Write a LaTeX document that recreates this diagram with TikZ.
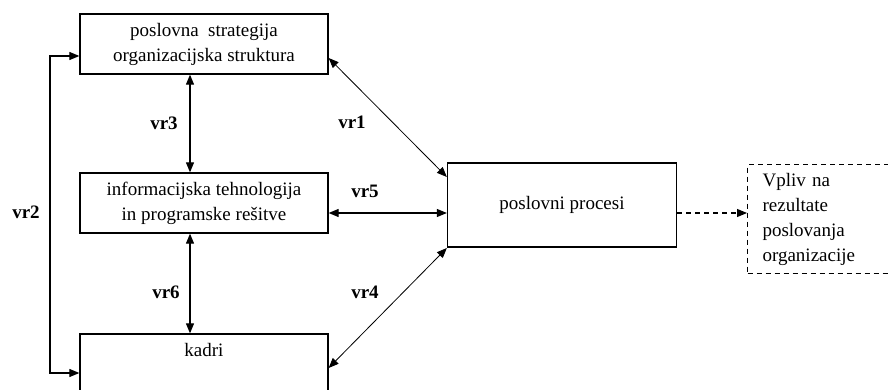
\documentclass[tikz,border=0pt]{standalone}
\usepackage{fontspec}
\setmainfont{Liberation Serif}
\usetikzlibrary{arrows.meta}
\begin{document}
\begin{tikzpicture}[x=1pt,y=-1pt,
  box/.style={draw=black, line width=1.3pt, fill=white, inner sep=0pt},
  txt/.style={font=\fontsize{19}{25}\selectfont, align=center},
  lbl/.style={font=\fontsize{19}{23}\selectfont\bfseries},
  con/.style={line width=1.1pt, {Triangle[length=10pt,width=8pt]}-{Triangle[length=10pt,width=8pt]}},
  thinarrow/.style={line width=0.8pt, {Triangle[length=10pt,width=8pt]}-{Triangle[length=10pt,width=8pt]}},
  dasharrow/.style={line width=1.1pt, dash pattern=on 5pt off 4pt, -{Triangle[length=10pt,width=8pt]}}
]
\useasboundingbox (0,0) rectangle (888,390);
\clip (0,0) rectangle (888,390);
\fill[white] (0,0) rectangle (888,390);

\node[box, txt, minimum width=248pt, minimum height=60pt] (b1) at (204,44)
  {poslovna\ \ strategija\\organizacijska struktura};
\node[box, txt, minimum width=248pt, minimum height=60pt] (b2) at (204,203)
  {informacijska tehnologija\\in programske rešitve};
\node[box, minimum width=248pt, minimum height=86pt,
  label={[txt, anchor=north, yshift=-6pt]north:kadri}] (b3) at (204,377) {};
\node[box, txt, minimum width=229pt, minimum height=84pt] (b4) at (562,205)
  {poslovni procesi};
\node[draw=black, line width=1.1pt, dash pattern=on 5pt off 4pt,
  font=\fontsize{19}{25}\selectfont, align=left, text width=130pt,
  inner xsep=15pt, inner ysep=0pt, minimum height=109pt, anchor=north west] (b5) at (747,164)
  {Vpliv na\\rezultate\\poslovanja\\organizacije};

% connectors
\draw[con] ([xshift=-14pt]b1.south) -- ([xshift=-14pt]b2.north);
\draw[con] ([xshift=-14pt]b2.south) -- ([xshift=-14pt]b3.north);
\draw[con] ([yshift=-10pt]b2.east) -- ([yshift=-10pt]b2.east -| b4.west);
\draw[thinarrow] ([yshift=-14pt]b1.east) -- ([yshift=28pt]b4.west);
\draw[thinarrow] ([yshift=-43pt]b4.west) -- ([yshift=9pt]b3.east);
\coordinate (c1) at (50,56);
\draw[con] ([yshift=-12pt]b1.west) -- (c1) |- ([yshift=4pt]b3.west);
\draw[dasharrow] ([yshift=-8pt]b4.east) -- ([yshift=-8pt]b4.east -| b5.west);

% labels
\node[lbl] (l1) at (352,122) {vr1};
\node[lbl] (l2) at (26,212) {vr2};
\node[lbl] (l3) at (164,123) {vr3};
\node[lbl] (l4) at (365,292) {vr4};
\node[lbl] (l5) at (365,191) {vr5};
\node[lbl] (l6) at (166,292) {vr6};
\end{tikzpicture}
\end{document}
